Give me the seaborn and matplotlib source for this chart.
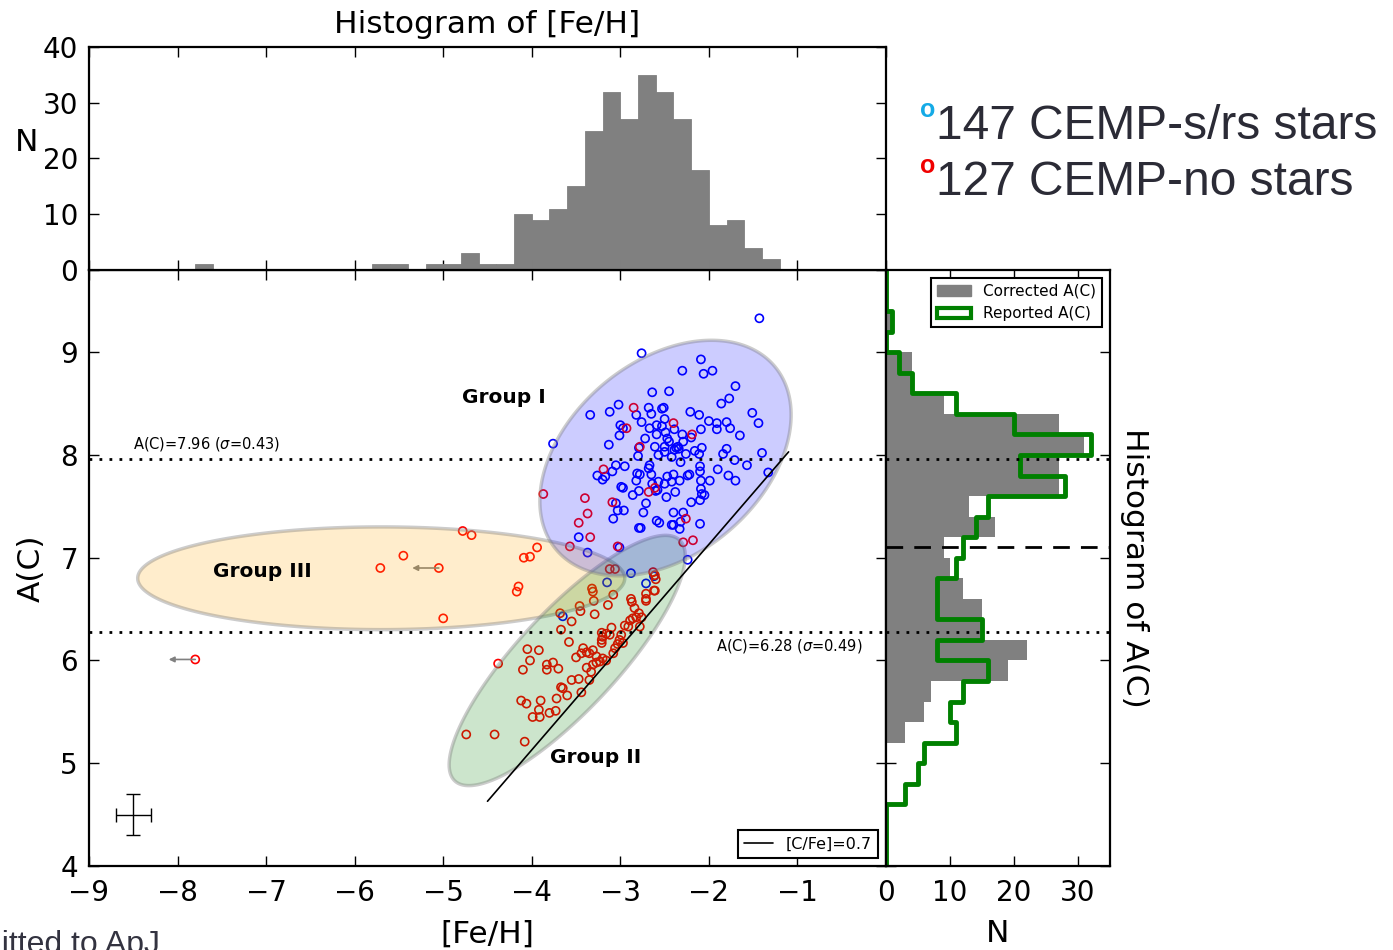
import numpy as np
import pandas as pd
import matplotlib
matplotlib.use("Agg")
import matplotlib.pyplot as plt
from matplotlib.patches import Patch
from matplotlib.lines import Line2D
import seaborn as sns

# ---------------- data ----------------
# CEMP-s / CEMP-r/s stars: [Fe/H], A(C)
feh_s = [-1.43, -2.76, -2.09, -2.30, -2.06, -1.96, -1.70, -2.64, -2.45, -1.86, -1.77, -1.51, -1.44,
         -3.34, -3.12, -3.02, -2.68, -2.53, -2.51, -2.82, -2.65, -2.21, -2.11, -2.00, -1.91, -1.80,
         -1.76, -1.65, -1.91, -2.09, -3.00, -2.97, -3.01, -2.76, -2.67, -2.59, -2.53, -2.50, -2.59,
         -2.49, -2.39, -2.30, -2.47, -2.72, -2.45, -2.61, -2.50, -2.37, -2.34, -2.35, -2.39, -2.29,
         -2.20, -2.08, -2.16, -2.11, -2.26, -2.32, -2.42, -2.50, -2.57, -2.79, -2.80, -3.13, -3.76,
         -1.84, -1.80, -1.71, -1.57, -1.40, -1.33, -3.05, -2.95, -3.09, -3.26, -3.20, -3.17, -2.67,
         -2.68, -2.81, -2.78, -2.65, -2.47, -2.40, -2.57, -2.50, -2.42, -2.33, -2.24, -2.22, -2.10,
         -2.10, -2.09, -1.99, -1.90, -1.78, -1.70, -2.82, -2.99, -2.97, -2.79, -2.86, -2.64, -2.60,
         -2.58, -2.48, -2.38, -2.09, -2.08, -2.05, -2.10, -2.20, -2.71, -3.05, -3.03, -2.96, -3.08,
         -2.74, -2.40, -2.29, -2.59, -2.56, -2.42, -2.40, -2.32, -2.33, -2.10, -2.79, -2.77, -3.47,
         -3.01, -3.37, -2.88, -3.15, -2.71, -2.62, -2.24, -3.65]
ac_s = [9.33, 8.99, 8.93, 8.82, 8.79, 8.82, 8.67, 8.61, 8.62, 8.50, 8.55, 8.41, 8.31,
        8.39, 8.42, 8.49, 8.46, 8.45, 8.46, 8.39, 8.40, 8.42, 8.39, 8.33, 8.31, 8.32,
        8.26, 8.19, 8.25, 8.25, 8.29, 8.26, 8.19, 8.32, 8.26, 8.29, 8.28, 8.35, 8.20,
        8.22, 8.25, 8.20, 8.16, 8.16, 8.13, 8.08, 8.08, 8.07, 8.06, 8.08, 8.05, 8.13,
        8.17, 8.07, 8.04, 8.01, 8.01, 7.93, 7.98, 8.03, 8.00, 8.07, 7.99, 8.10, 8.11,
        8.01, 8.06, 7.95, 7.90, 8.02, 7.83, 7.90, 7.89, 7.84, 7.80, 7.76, 7.79, 7.90,
        7.87, 7.82, 7.81, 7.81, 7.79, 7.81, 7.74, 7.72, 7.74, 7.75, 7.80, 7.81, 7.89,
        7.84, 7.75, 7.75, 7.86, 7.80, 7.75, 7.75, 7.69, 7.68, 7.65, 7.61, 7.72, 7.65,
        7.66, 7.59, 7.64, 7.67, 7.62, 7.61, 7.56, 7.54, 7.53, 7.53, 7.46, 7.46, 7.38,
        7.44, 7.44, 7.44, 7.36, 7.34, 7.32, 7.32, 7.35, 7.28, 7.33, 7.29, 7.29, 7.20,
        7.10, 7.05, 6.85, 6.76, 6.75, 6.82, 6.98, 6.43]

# CEMP-no stars: [Fe/H], A(C)
feh_no = [-2.85, -2.40, -2.19, -2.93, -2.78, -3.19, -3.87, -2.68, -2.61, -3.09, -3.40, -3.37,
          -3.47, -3.34, -3.57, -2.26, -2.29, -2.18, -3.03,
          -7.80, -5.71, -5.45, -5.05, -4.78, -4.68, -5.00, -4.09, -4.02, -3.94, -4.15, -4.17,
          -3.68, -3.55, -3.67, -3.58, -4.38, -4.05, -3.92, -4.02, -4.10, -3.83, -3.76, -3.70,
          -3.83, -3.50, -3.12, -3.06, -3.32, -3.31, -3.30, -3.08, -3.14, -3.29, -3.46, -3.45,
          -2.88, -2.87, -2.71, -2.71, -2.61, -2.60, -2.61, -2.84, -2.79, -2.76, -2.82, -2.86,
          -2.89, -2.95, -2.91, -2.78, -3.10, -3.21, -3.20, -3.21, -3.16, -3.12, -2.99, -3.01,
          -3.03, -3.06, -2.97, -3.42, -3.38, -3.44, -3.35, -3.27, -3.27, -3.31, -3.33, -3.23,
          -3.20, -3.16, -3.55, -3.47, -3.67, -3.65, -3.60, -3.72, -3.44, -4.12, -4.06, -3.90,
          -3.92, -3.99, -3.91, -3.80, -3.73, -4.74, -4.42, -4.08, -2.63, -2.62, -2.71, -3.35,
          -3.38, -3.08, -3.21, -3.31]
ac_no = [8.46, 8.31, 8.20, 8.26, 8.08, 7.86, 7.62, 7.64, 7.68, 7.54, 7.58, 7.43,
         7.34, 7.20, 7.11, 7.38, 7.15, 7.17, 7.11,
         6.01, 6.90, 7.02, 6.90, 7.26, 7.22, 6.41, 7.00, 7.01, 7.10, 6.72, 6.67,
         6.46, 6.38, 6.30, 6.18, 5.97, 6.11, 6.10, 6.00, 5.91, 5.96, 5.98, 5.92,
         5.91, 6.03, 6.89, 6.89, 6.70, 6.67, 6.58, 6.64, 6.54, 6.45, 6.53, 6.48,
         6.60, 6.57, 6.65, 6.60, 6.68, 6.79, 6.83, 6.51, 6.46, 6.42, 6.42, 6.41,
         6.39, 6.34, 6.33, 6.33, 6.32, 6.27, 6.23, 6.20, 6.26, 6.25, 6.25, 6.20,
         6.16, 6.12, 6.17, 6.12, 6.08, 6.07, 6.07, 6.04, 5.98, 5.96, 5.89, 5.99,
         6.02, 6.00, 5.81, 5.82, 5.74, 5.73, 5.66, 5.63, 5.69, 5.61, 5.58, 5.61,
         5.52, 5.45, 5.45, 5.49, 5.51, 5.28, 5.28, 5.21, 6.86, 6.68, 6.58, 5.81,
         5.93, 6.07, 6.17, 6.10]

# stars with only an upper limit on [Fe/H]
feh_limit = [-7.80, -5.05]
ac_limit = [6.01, 6.90]
limit_arrow = 0.3

# histogram of [Fe/H] (0.2 dex bins from -7.8 to -0.2)
feh_bin_edges = [round(-7.8 + 0.2 * i, 2) for i in range(39)]
feh_counts = [1, 0, 0, 0, 0, 0, 0, 0, 0, 0, 1, 1, 0, 1, 1, 3, 1, 1, 10, 9,
              11, 15, 25, 32, 27, 35, 32, 27, 18, 8, 9, 4, 2, 0, 0, 0, 0, 0]

# histograms of A(C) (0.2 dex bins from 3.8 to 10.0)
ac_bin_edges = [round(3.8 + 0.2 * i, 2) for i in range(32)]
ac_corrected = [0, 0, 0, 0, 0, 0, 0, 3, 6, 7, 19, 22, 15, 15, 12, 10,
                9, 17, 13, 27, 27, 31, 27, 9, 4, 4, 0, 1, 0, 0, 0]
ac_reported = [0, 0, 0, 0, 3, 5, 6, 11, 10, 12, 16, 8, 15, 8, 8, 11,
               12, 14, 16, 28, 21, 32, 20, 11, 4, 2, 0, 1, 0, 0, 0]

# reference levels
ac_high_mean, ac_high_sigma = 7.96, 0.43
ac_low_mean, ac_low_sigma = 6.28, 0.49
ac_split = 7.1
cfe_cut = 0.7
solar_ac = 8.43
cfe_feh_range = [-4.5, -1.1]
err_feh, err_ac = 0.2, 0.2

# group ellipses: center, semi-axes (in [Fe/H] units on screen), angle
groups = {
    "Group I":   dict(center=(-2.49, 7.97), axes=(1.61, 1.09), angle=40, color=(0.0, 0.0, 1.0)),
    "Group II":  dict(center=(-3.60, 6.00), axes=(1.86, 0.56), angle=47, color=(0.0, 0.5, 0.0)),
    "Group III": dict(center=(-5.70, 6.80), axes=(2.75, 0.58), angle=0, color=(1.0, 0.647, 0.0)),
}
group_labels = {"Group I": (-4.32, 8.56), "Group II": (-3.28, 5.06), "Group III": (-7.04, 6.87)}

# ---------------- style ----------------
sns.set_style("ticks")
plt.rcParams.update({
    "font.family": ["DejaVu Sans"],
    "axes.linewidth": 1.6,
    "xtick.direction": "in", "ytick.direction": "in",
    "xtick.top": True, "ytick.right": True,
    "xtick.major.size": 7, "ytick.major.size": 7,
    "xtick.major.width": 1.0, "ytick.major.width": 1.0,
    "xtick.labelsize": 20, "ytick.labelsize": 20,
    "axes.edgecolor": "black",
    "text.color": "black", "axes.labelcolor": "black",
    "xtick.color": "black", "ytick.color": "black",
})
LABEL_SIZE = 22.5

fig = plt.figure(figsize=(13.93, 9.5), dpi=100)
L, W = 0.06389, 0.57215
B, H = 0.08842, 0.62737
ax = fig.add_axes([L, B, W, H])
axt = fig.add_axes([L, B + H, W, 0.23474])
axr = fig.add_axes([L + W, B, 0.16080, H])

XLIM = (-9, 0)
YLIM = (4, 9.8)
ax.set_xlim(*XLIM)
ax.set_ylim(*YLIM)

# ---------------- main panel ----------------
def group_outline(axis, center, axes, angle):
    """Ellipse outline whose shape is defined in screen proportions."""
    bbox = axis.get_window_extent()
    x0, x1 = axis.get_xlim()
    y0, y1 = axis.get_ylim()
    k = (bbox.width / (x1 - x0)) / (bbox.height / (y1 - y0))
    t = np.linspace(0, 2 * np.pi, 300)
    th = np.deg2rad(angle)
    u = axes[0] * np.cos(t)
    v = axes[1] * np.sin(t)
    xs = center[0] + u * np.cos(th) - v * np.sin(th)
    ys = center[1] + (u * np.sin(th) + v * np.cos(th)) * k
    return xs, ys

sns.scatterplot(x=feh_s, y=ac_s, ax=ax, marker="o", s=34, facecolor="none",
                edgecolor="blue", linewidth=1.2, zorder=2, legend=False)
sns.scatterplot(x=feh_no, y=ac_no, ax=ax, marker="o", s=34, facecolor="none",
                edgecolor="red", linewidth=1.2, zorder=2, legend=False)

for fx, fy in zip(feh_limit, ac_limit):
    ax.annotate("", xy=(fx - limit_arrow, fy), xytext=(fx, fy),
                arrowprops=dict(arrowstyle="-|>", color="grey", lw=1.2,
                                mutation_scale=8, shrinkA=0, shrinkB=0), zorder=2)

# translucent group regions lie over the stars
for name in ["Group III", "Group II", "Group I"]:
    g = groups[name]
    xs, ys = group_outline(ax, g["center"], g["axes"], g["angle"])
    ax.fill(xs, ys, facecolor=(*g["color"], 0.2), edgecolor=(0.5, 0.5, 0.5, 0.4),
            linewidth=2.5, zorder=3)

for name, (gx, gy) in group_labels.items():
    ax.text(gx, gy, name, fontsize=14.5, fontweight="bold", ha="center", va="center", zorder=5)

# [C/Fe] = 0.7 boundary
cfe_feh = np.array(cfe_feh_range)
sns.lineplot(x=cfe_feh, y=cfe_feh + solar_ac + cfe_cut, color="black", linewidth=1.2, ax=ax,
             zorder=4, legend=False)

for a in (ax, axr):
    a.axhline(ac_high_mean, color="black", linestyle=(0, (1, 2.6)), linewidth=2, zorder=4)
    a.axhline(ac_low_mean, color="black", linestyle=(0, (1, 2.6)), linewidth=2, zorder=4)

ax.text(-8.5, 8.11, rf"A(C)={ac_high_mean:.2f} ($\sigma$={ac_high_sigma:.2f})", fontsize=10.5,
        ha="left", va="center")
ax.text(-0.26, 6.14, rf"A(C)={ac_low_mean:.2f} ($\sigma$={ac_low_sigma:.2f})", fontsize=10.5,
        ha="right", va="center")

# typical uncertainty
ax.errorbar(-8.5, 4.5, xerr=err_feh, yerr=err_ac, color="black", linewidth=1,
            capsize=5, capthick=1)

leg = ax.legend(handles=[Line2D([], [], color="black", linewidth=1.2)],
                labels=[f"[C/Fe]={cfe_cut}"], loc="lower right", fontsize=11.5,
                fancybox=False, edgecolor="black", framealpha=1, handlelength=1.8)
leg.get_frame().set_linewidth(1.5)
leg.set_zorder(6)

ax.set_xticks(np.arange(-9, 0, 1))
ax.set_yticks(np.arange(4, 10, 1))
ax.tick_params(axis="x", pad=9)
ax.tick_params(axis="y", pad=8)
ax.set_xlabel("[Fe/H]", fontsize=LABEL_SIZE, va="center")
ax.xaxis.set_label_coords(0.5, -0.114)
ax.set_ylabel("A(C)", fontsize=LABEL_SIZE, va="center", ha="center")
ax.yaxis.set_label_coords(-0.073, 0.5)

# ---------------- top histogram ----------------
feh_centers = [(lo + hi) / 2 for lo, hi in zip(feh_bin_edges[:-1], feh_bin_edges[1:])]
feh_df = pd.DataFrame({"feh": feh_centers, "n": feh_counts})
sns.histplot(data=feh_df, x="feh", weights="n", bins=feh_bin_edges, ax=axt,
             color="#808080", alpha=1, linewidth=0.6, edgecolor="#808080")
axt.set_xlim(*XLIM)
axt.set_ylim(0, 40)
axt.set_xticks(np.arange(-9, 1, 1))
axt.set_xticklabels([])
axt.set_yticks([0, 10, 20, 30, 40])
axt.tick_params(axis="y", pad=8)
axt.set_xlabel("")
axt.set_ylabel("N", fontsize=LABEL_SIZE, rotation=0, va="center", ha="center")
axt.yaxis.set_label_coords(-0.078, 0.57)
axt.set_title("Histogram of [Fe/H]", fontsize=LABEL_SIZE, pad=10)

# ---------------- right histogram ----------------
ac_centers = [(lo + hi) / 2 for lo, hi in zip(ac_bin_edges[:-1], ac_bin_edges[1:])]
ac_df = pd.DataFrame({"ac": ac_centers, "corr": ac_corrected, "rep": ac_reported})
sns.histplot(data=ac_df, y="ac", weights="corr", bins=ac_bin_edges, ax=axr,
             color="#808080", alpha=1, linewidth=0)
sns.histplot(data=ac_df, y="ac", weights="rep", bins=ac_bin_edges, ax=axr,
             element="step", fill=False, color="green", linewidth=3.5)
axr.axhline(ac_split, color="black", linestyle=(0, (6, 4)), linewidth=2, zorder=3)
axr.set_xlim(0, 35)
axr.set_ylim(*YLIM)
axr.set_xticks([0, 10, 20, 30])
axr.set_yticks(np.arange(4, 10, 1))
axr.set_yticklabels([])
axr.tick_params(axis="x", pad=9)
axr.set_ylabel("")
axr.set_xlabel("N", fontsize=LABEL_SIZE, va="center")
axr.xaxis.set_label_coords(0.5, -0.114)
axr.text(1.11, 0.5, "Histogram of A(C)", rotation=270, fontsize=LABEL_SIZE, ha="center",
         va="center", transform=axr.transAxes)
leg_r = axr.legend(handles=[Patch(facecolor="#808080", edgecolor="#808080"),
                            Patch(facecolor="white", edgecolor="green", linewidth=3)],
                   labels=["Corrected A(C)", "Reported A(C)"], loc="upper right",
                   fontsize=11, fancybox=False, edgecolor="black", framealpha=1,
                   handlelength=2.2)
leg_r.get_frame().set_linewidth(1.5)

# ---------------- sample annotation ----------------
ann_font = ["Liberation Sans", "DejaVu Sans"]
fig.text(0.6605, 0.8768, "o", fontsize=18, fontweight="bold", color="#14aae6", family=ann_font)
fig.text(0.672, 0.8535, "147 CEMP-s/rs stars", fontsize=34.5, color="#2b2b36", family=ann_font)
fig.text(0.6605, 0.8178, "o", fontsize=18, fontweight="bold", color="#f00000", family=ann_font)
fig.text(0.672, 0.7945, "127 CEMP-no stars", fontsize=34.5, color="#2b2b36", family=ann_font)
fig.text(160 / 1393, -0.003, "Submitted to ApJ", fontsize=23, color="#333340",
         family=ann_font, ha="right", va="baseline")

fig.savefig("out.png", dpi=100)
